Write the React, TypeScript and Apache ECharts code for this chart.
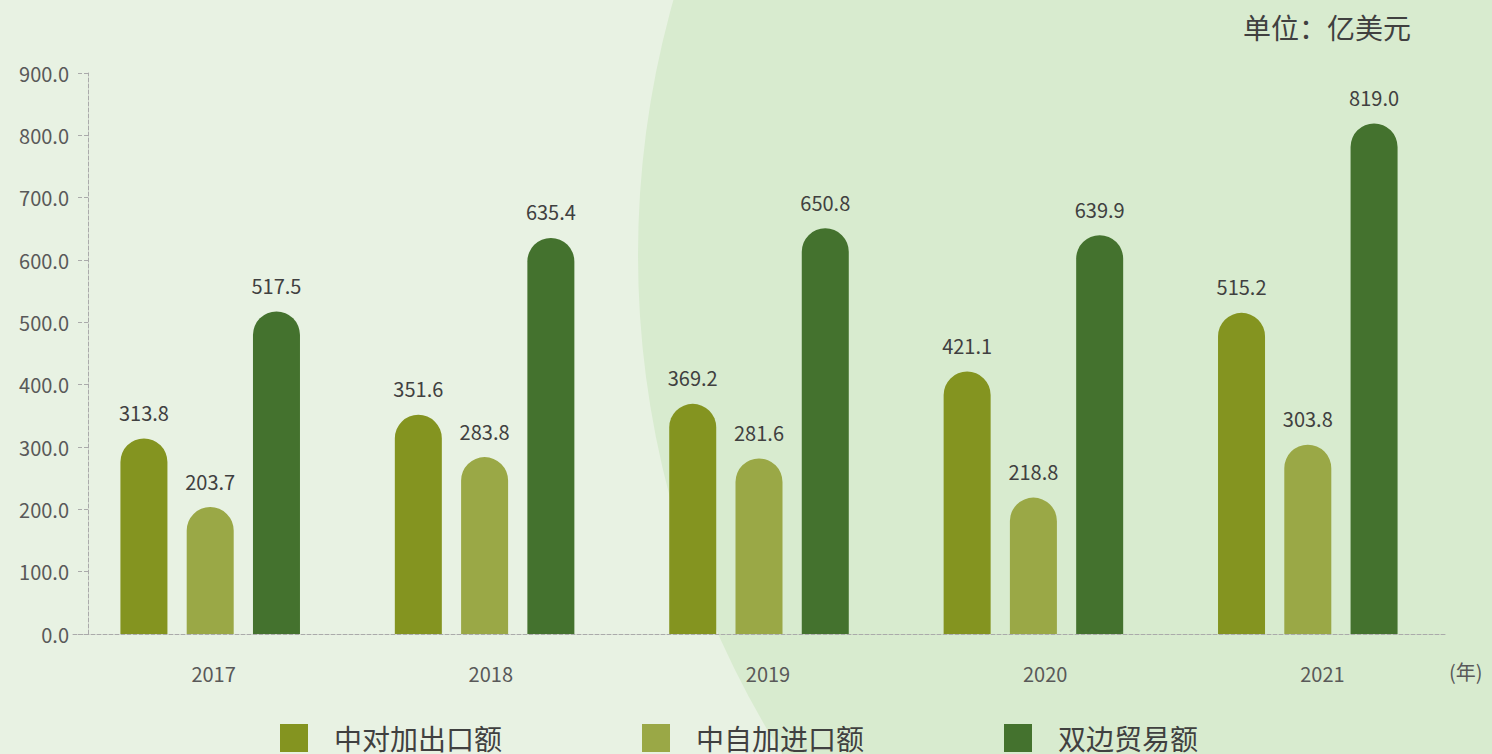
import React, { useEffect, useRef } from "react";
import * as echarts from "echarts";

const years = ["2017", "2018", "2019", "2020", "2021"];
const exportsToCanada = [313.8, 351.6, 369.2, 421.1, 515.2];
const importsFromCanada = [203.7, 283.8, 281.6, 218.8, 303.8];
const bilateralTrade = [517.5, 635.4, 650.8, 639.9, 819.0];
const seriesNames = ["中对加出口额", "中自加进口额", "双边贸易额"];
const colors = ["#849420", "#9aa846", "#44722e"];
const unitText = "单位：亿美元";
const yearUnit = "(年)";

const FONT = "'Noto Sans CJK SC', 'Noto Sans', sans-serif";

export default function App() {
  const ref = useRef<HTMLDivElement>(null);
  useEffect(() => {
    document.body.style.margin = "0";
    const chart = echarts.init(ref.current!, null, { renderer: "svg" });
    const mk = (name: string, data: number[], color: string) => ({
      name,
      type: "bar",
      data,
      xAxisIndex: 0,
      yAxisIndex: 0,
      barWidth: 47,
      barGap: "41%",
      itemStyle: { color, borderRadius: [24, 24, 0, 0] },
      label: {
        show: true,
        position: "top",
        distance: 16,
        color: "#404040",
        fontSize: 20,
        fontFamily: FONT,
        formatter: (p: any) => Number(p.value).toFixed(1),
      },
    });
    chart.setOption({
      animation: false,
      backgroundColor: "#e8f2e3",
      textStyle: { fontFamily: FONT },
      graphic: [
        {
          type: "circle",
          z: -10,
          silent: true,
          shape: { cx: 1574, cy: 255, r: 936 },
          style: { fill: "#d8ebcf" },
        },
        {
          type: "text",
          left: 1243,
          top: 13,
          style: { text: unitText, fill: "#404040", fontSize: 28, fontFamily: FONT },
        },
        {
          type: "text",
          left: 1449,
          top: 661,
          style: { text: yearUnit, fill: "#595959", fontSize: 20, fontFamily: FONT },
        },
      ],
      legend: {
        left: 275,
        top: 719,
        itemWidth: 28,
        itemHeight: 28,
        itemGap: 140,
        icon: "rect",
        textStyle: { fontSize: 28, color: "#404040", fontFamily: FONT, padding: [0, 0, 0, 21] },
        data: seriesNames,
      },
      grid: [
        { left: 73, right: 47, top: 73, bottom: 120, containLabel: false },
        { left: 75, right: 31, top: 73, bottom: 120, containLabel: false },
      ],
      xAxis: [
        {
          type: "category",
          gridIndex: 0,
          data: years,
          axisLine: { lineStyle: { color: "#aaaaaa", type: "dashed", width: 1 } },
          axisTick: { show: false },
          axisLabel: { show: false },
        },
        {
          type: "category",
          gridIndex: 1,
          data: years,
          axisLine: { show: false },
          axisTick: { show: false },
          axisLabel: { color: "#595959", fontSize: 20, margin: 29, fontFamily: FONT },
        },
      ],
      yAxis: [
        {
          type: "value",
          gridIndex: 0,
          min: 0,
          max: 900,
          interval: 100,
          offset: -15,
          splitLine: { show: false },
          axisLine: { show: true, lineStyle: { color: "#aaaaaa", type: "dashed", width: 1 } },
          axisTick: { show: true, length: 11, lineStyle: { color: "#aaaaaa", type: "dashed" } },
          axisLabel: {
            color: "#595959",
            fontSize: 20,
            margin: 19,
            fontFamily: FONT,
            formatter: (v: number) => v.toFixed(1),
          },
        },
        {
          type: "value",
          gridIndex: 1,
          min: 0,
          max: 900,
          interval: 100,
          show: false,
        },
      ],
      series: [
        mk(seriesNames[0], exportsToCanada, colors[0]),
        mk(seriesNames[1], importsFromCanada, colors[1]),
        mk(seriesNames[2], bilateralTrade, colors[2]),
      ],
    });
    return () => chart.dispose();
  }, []);
  return (
    <div
      ref={ref}
      style={{ position: "absolute", left: 0, top: 0, width: 1492, height: 754 }}
    />
  );
}
